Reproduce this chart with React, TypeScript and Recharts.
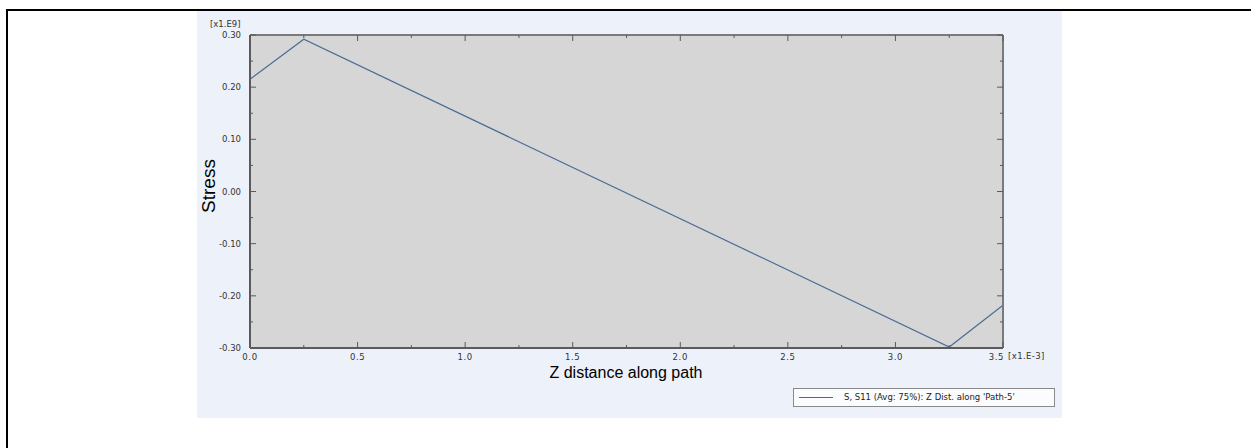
import React from 'react';
import { LineChart, Line, XAxis, YAxis, CartesianGrid } from 'recharts';

// path distance (x1.E-3) and stress S11 (x1.E9)
const zDistance = [0, 0.25, 3.25, 3.5];
const stress = [0.215, 0.292, -0.298, -0.218];

const xTicks = [0, 0.25, 0.5, 0.75, 1, 1.25, 1.5, 1.75, 2, 2.25, 2.5, 2.75, 3, 3.25, 3.5];
const yTicks = [
 -0.3, -0.25, -0.2, -0.15, -0.1, -0.05, 0, 0.05, 0.1, 0.15, 0.2, 0.25, 0.3,
];

const seriesName = "S, S11 (Avg: 75%): Z Dist. along 'Path-5'";

const data = zDistance.map((z, i) => ({ z, s: stress[i] }));

const LINE = '#4a6c94';
const AXIS = '#5a5a5a';
const LABEL = '#333';
const TICK_FONT = '"DejaVu Sans", sans-serif';

const isMajor = (v: number, step: number) => Math.abs(v / step - Math.round(v / step)) < 1e-6;

const LeftTick = (props: any) => {
 const { x, y, payload } = props;
 const major = isMajor(payload.value, 0.1);
 return (
 <g>
 <line x1={x} x2={x + (major ? 6 : 3)} y1={y} y2={y} stroke={AXIS} strokeWidth={1} />
 {major && (
 <text x={x - 9} y={y} dy={3} textAnchor="end" fontSize={8.5} fontFamily={TICK_FONT} fill={LABEL}>
 {payload.value.toFixed(2)}
 </text>
 )}
 </g>
 );
};

const RightTick = (props: any) => {
 const { x, y, payload } = props;
 const major = isMajor(payload.value, 0.1);
 return <line x1={x} x2={x - (major ? 6 : 3)} y1={y} y2={y} stroke={AXIS} strokeWidth={1} />;
};

const BottomTick = (props: any) => {
 const { x, y, payload } = props;
 const major = isMajor(payload.value, 0.5);
 const last = payload.value === xTicks[xTicks.length - 1];
 return (
 <g>
 <line x1={x} x2={x} y1={y} y2={y - (major ? 6 : 3)} stroke={AXIS} strokeWidth={1} />
 {major && (
 <text
 x={last ? x + 1 : x}
 y={y + 12}
 textAnchor={last ? 'end' : 'middle'}
 fontSize={8.5}
 fontFamily={TICK_FONT}
 fill={LABEL}
 letterSpacing={0.6}
 >
 {payload.value.toFixed(1)}
 </text>
 )}
 </g>
 );
};

const TopTick = (props: any) => {
 const { x, y, payload } = props;
 const major = isMajor(payload.value, 0.5);
 return <line x1={x} x2={x} y1={y} y2={y + (major ? 6 : 3)} stroke={AXIS} strokeWidth={1} />;
};

const LegendBox = () => (
 <div
 style={{
 position: 'absolute',
 left: 793,
 top: 388,
 width: 262,
 height: 19,
 border: '1px solid #8a8a8a',
 background: '#fbfcfe',
 boxSizing: 'border-box',
 fontFamily: TICK_FONT,
 fontSize: 8.5,
 color: '#222',
 }}
 >
 <div style={{ position: 'absolute', left: 5, top: 8, width: 34, height: 0, borderTop: `1.5px solid ${LINE}` }} />
 <div style={{ position: 'absolute', left: 50, top: 3, whiteSpace: 'nowrap' }}>{seriesName}</div>
 </div>
);

export default function App() {
 return (
 <div style={{ position: 'absolute', left: 0, top: 0, width: 1251, height: 448, background: '#fff', overflow: 'hidden' }}>
 <div style={{ position: 'absolute', left: 6, top: 9, width: 1300, height: 500, borderLeft: '2px solid #000', borderTop: '2px solid #000' }} />
 <div style={{ position: 'absolute', left: 197, top: 11, width: 865, height: 407, background: '#edf1f9' }} />
 <div style={{ position: 'absolute', left: 210, top: 19, fontFamily: TICK_FONT, fontSize: 8.5, color: LABEL }}>[x1.E9]</div>
 <div style={{ position: 'absolute', left: 1008, top: 351, fontFamily: TICK_FONT, fontSize: 8.5, color: LABEL, letterSpacing: 0.4 }}>
 [x1.E-3]
 </div>
 <div
 style={{
 position: 'absolute',
 left: 209,
 top: 186,
 transform: 'translate(-50%, -50%) rotate(-90deg)',
 fontFamily: '"Liberation Sans", Arial, sans-serif',
 fontSize: 19,
 color: '#000',
 whiteSpace: 'nowrap',
 }}
 >
 Stress
 </div>
 <div
 style={{
 position: 'absolute',
 left: 626,
 top: 373,
 transform: 'translate(-50%, -50%)',
 fontFamily: '"Liberation Sans", Arial, sans-serif',
 fontSize: 16,
 color: '#000',
 whiteSpace: 'nowrap',
 }}
 >
 Z distance along path
 </div>
 <div style={{ position: 'absolute', left: 0, top: 0 }}>
 <LineChart width={1251} height={448} data={data} margin={{ top: 34, right: 247, bottom: 70, left: 200 }}>
 <CartesianGrid fill="#d6d6d6" horizontal={false} vertical={false} stroke="none" xAxisId="bottom" yAxisId="left" />
 <XAxis
 xAxisId="bottom"
 dataKey="z"
 type="number"
 domain={[0, 3.5]}
 ticks={xTicks}
 interval={0}
 height={30}
 tickSize={0}
 tickMargin={0}
 tickLine={false}
 tick={<BottomTick />}
 stroke={AXIS}
 strokeWidth={2}
 allowDataOverflow
 />
 <XAxis
 xAxisId="top"
 orientation="top"
 dataKey="z"
 type="number"
 domain={[0, 3.5]}
 ticks={xTicks}
 interval={0}
 height={1}
 tickSize={0}
 tickMargin={0}
 tickLine={false}
 tick={<TopTick />}
 stroke="#7a7a7a"
 strokeWidth={2}
 allowDataOverflow
 />
 <YAxis
 yAxisId="left"
 type="number"
 domain={[-0.3, 0.3]}
 ticks={yTicks}
 interval={0}
 width={50}
 tickSize={0}
 tickMargin={0}
 tickLine={false}
 tick={<LeftTick />}
 stroke={AXIS}
 strokeWidth={2}
 allowDataOverflow
 />
 <YAxis
 yAxisId="right"
 orientation="right"
 type="number"
 domain={[-0.3, 0.3]}
 ticks={yTicks}
 interval={0}
 width={1}
 tickSize={0}
 tickMargin={0}
 tickLine={false}
 tick={<RightTick />}
 stroke="#7a7a7a"
 strokeWidth={2}
 allowDataOverflow
 />
 <Line
 xAxisId="top"
 yAxisId="right"
 dataKey="s"
 stroke="none"
 dot={false}
 legendType="none"
 isAnimationActive={false}
 />
 <Line
 xAxisId="bottom"
 yAxisId="left"
 dataKey="s"
 name={seriesName}
 stroke={LINE}
 strokeWidth={1.2}
 dot={false}
 isAnimationActive={false}
 />
 </LineChart>
 </div>
 <LegendBox />
 </div>
 );
}
